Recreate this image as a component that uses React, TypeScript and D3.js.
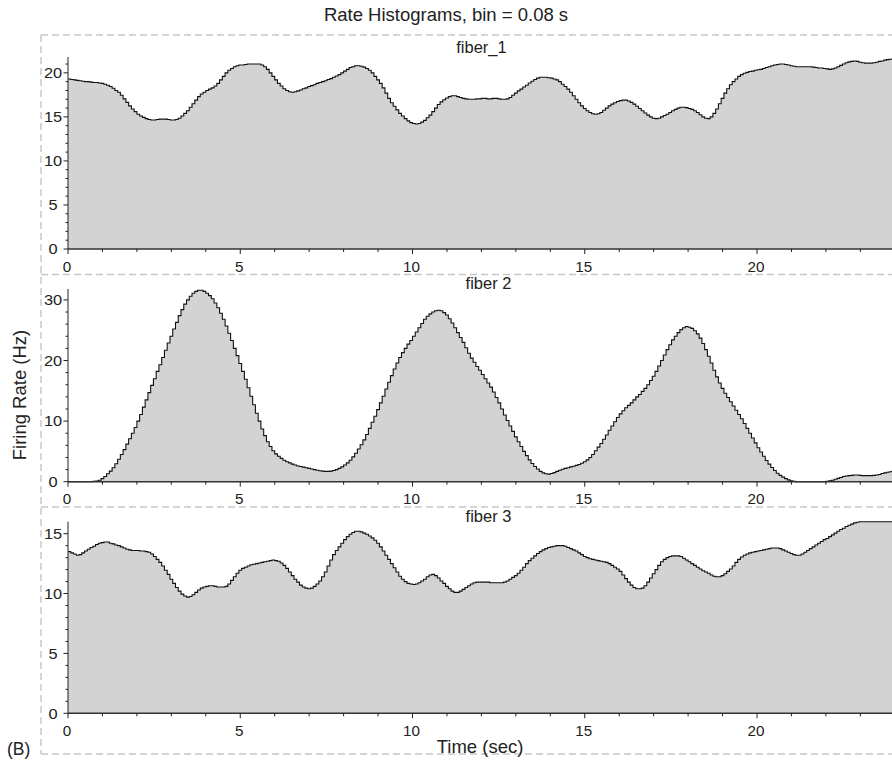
import React from 'react';
import * as d3 from 'd3';

const BIN = 0.08;
const TITLE = 'Rate Histograms, bin = 0.08 s';
const X_LABEL = 'Time (sec)';
const Y_LABEL = 'Firing Rate (Hz)';
const PANEL_TAG = '(B)';
const panelTitles = ['fiber_1', 'fiber 2', 'fiber 3'];

// firing-rate histograms, one value per 0.08 s bin (t = 0.00 ... 23.92)
const fiber1 = [
  19.3,19.25,19.2,19.15,19.1,19.05,19.0,19.0,18.95,18.9,18.9,18.85,18.8,18.7,18.6,18.45,18.25,18.0,17.8,17.45,17.05,16.65,16.25,15.9,15.6,
  15.3,15.1,14.95,14.8,14.7,14.65,14.65,14.7,14.75,14.75,14.75,14.7,14.65,14.65,14.7,14.85,15.1,15.4,15.7,16.1,16.5,16.9,17.3,17.6,17.8,
  18.0,18.15,18.3,18.5,18.8,19.2,19.6,20.0,20.3,20.5,20.7,20.8,20.9,20.9,20.95,21.0,21.0,21.0,21.0,21.0,20.9,20.7,20.4,20.0,19.6,
  19.2,18.8,18.5,18.2,18.0,17.85,17.8,17.85,17.95,18.05,18.2,18.3,18.45,18.55,18.65,18.8,18.9,19.0,19.1,19.25,19.35,19.5,19.65,19.8,20.0,
  20.2,20.4,20.6,20.7,20.8,20.8,20.75,20.65,20.5,20.3,20.0,19.6,19.2,18.8,18.3,17.7,17.1,16.6,16.2,15.8,15.4,15.1,14.8,14.55,14.35,
  14.25,14.2,14.25,14.4,14.6,14.9,15.2,15.6,16.0,16.4,16.7,16.95,17.15,17.3,17.4,17.4,17.3,17.2,17.1,17.05,17.0,17.0,17.0,17.05,17.05,
  17.1,17.1,17.05,17.05,17.1,17.1,17.05,17.0,17.0,17.05,17.2,17.45,17.7,17.95,18.15,18.4,18.6,18.85,19.05,19.25,19.4,19.5,19.5,19.5,19.45,
  19.4,19.3,19.2,19.0,18.7,18.45,18.15,17.8,17.4,17.0,16.6,16.25,15.95,15.7,15.5,15.35,15.3,15.35,15.5,15.75,16.0,16.25,16.45,16.6,16.75,
  16.85,16.9,16.9,16.8,16.65,16.45,16.2,15.95,15.7,15.45,15.2,15.0,14.85,14.8,14.85,15.0,15.15,15.3,15.5,15.7,15.85,16.0,16.1,16.1,16.05,
  15.95,15.85,15.7,15.5,15.25,15.0,14.85,14.8,15.0,15.4,15.9,16.5,17.1,17.7,18.2,18.65,19.0,19.3,19.6,19.8,19.95,20.05,20.15,20.2,20.3,
  20.35,20.4,20.5,20.6,20.7,20.8,20.9,20.95,21.0,21.0,20.95,20.9,20.8,20.75,20.7,20.7,20.7,20.7,20.7,20.7,20.65,20.6,20.55,20.55,20.5,
  20.45,20.4,20.45,20.55,20.7,20.85,21.0,21.15,21.25,21.3,21.35,21.3,21.2,21.15,21.1,21.1,21.1,21.15,21.2,21.3,21.35,21.45,21.5,21.55,21.6,
];

const fiber2 = [
  0,0,0,0,0,0,0,0,0.02,0.05,0.12,0.25,0.5,0.85,1.3,1.75,2.3,2.95,3.7,4.5,5.3,6.2,7.1,8.0,8.95,
  10.0,11.1,12.3,13.5,14.7,15.9,17.0,18.2,19.3,20.5,21.7,22.9,24.0,25.2,26.3,27.4,28.4,29.3,30.0,30.6,31.1,31.4,31.6,31.6,31.4,
  31.1,30.7,30.2,29.5,28.7,27.8,26.8,25.7,24.5,23.3,22.0,20.8,19.5,18.2,16.9,15.5,14.1,12.7,11.3,10.0,8.7,7.6,6.6,5.8,5.1,
  4.6,4.2,3.85,3.55,3.3,3.1,2.9,2.75,2.6,2.5,2.4,2.3,2.2,2.1,2.0,1.9,1.8,1.75,1.7,1.7,1.75,1.85,2.0,2.2,2.45,
  2.75,3.1,3.55,4.1,4.7,5.4,6.1,6.9,7.8,8.8,9.8,10.8,11.9,13.0,14.1,15.3,16.4,17.5,18.6,19.6,20.5,21.3,22.0,22.7,23.3,
  24.0,24.7,25.4,26.1,26.8,27.3,27.7,28.0,28.2,28.3,28.2,27.9,27.5,26.9,26.2,25.4,24.6,23.8,23.0,22.1,21.2,20.4,19.7,19.0,18.4,
  17.7,17.0,16.3,15.6,14.8,13.9,13.0,12.0,11.0,10.1,9.2,8.3,7.4,6.6,5.8,5.0,4.3,3.6,3.0,2.5,2.1,1.7,1.45,1.3,1.25,
  1.35,1.5,1.7,1.9,2.05,2.2,2.3,2.45,2.55,2.7,2.85,3.05,3.3,3.6,4.0,4.5,5.1,5.7,6.3,7.0,7.7,8.5,9.2,9.9,10.6,
  11.2,11.7,12.2,12.6,13.0,13.5,14.0,14.4,14.9,15.4,16.0,16.7,17.4,18.2,19.1,20.0,20.9,21.8,22.6,23.4,24.0,24.6,25.1,25.4,25.6,
  25.5,25.3,24.9,24.4,23.7,22.8,21.8,20.7,19.6,18.4,17.3,16.3,15.4,14.6,13.9,13.2,12.5,11.8,11.1,10.4,9.6,8.8,8.0,7.2,6.4,
  5.6,4.9,4.2,3.5,2.9,2.35,1.85,1.4,1.05,0.75,0.5,0.3,0.15,0.05,0,0,0,0,0,0,0,0,0,0,0,
  0.05,0.15,0.25,0.4,0.55,0.7,0.85,0.95,1.0,1.05,1.1,1.1,1.05,1.0,1.0,1.0,1.0,1.05,1.1,1.2,1.35,1.45,1.55,1.65,1.7,
];

const fiber3 = [
  13.5,13.4,13.3,13.2,13.25,13.4,13.55,13.7,13.85,13.95,14.1,14.2,14.25,14.3,14.3,14.2,14.15,14.05,14.0,13.9,13.8,13.7,13.65,13.6,13.6,
  13.6,13.55,13.55,13.5,13.45,13.3,13.1,12.85,12.6,12.3,11.95,11.6,11.2,10.85,10.5,10.2,9.95,9.8,9.7,9.75,9.9,10.1,10.3,10.45,10.55,
  10.6,10.65,10.65,10.6,10.55,10.55,10.55,10.6,10.8,11.1,11.4,11.7,11.95,12.1,12.2,12.3,12.4,12.45,12.5,12.55,12.6,12.65,12.7,12.75,12.8,
  12.75,12.7,12.55,12.35,12.1,11.8,11.5,11.2,10.95,10.7,10.55,10.45,10.4,10.45,10.6,10.8,11.05,11.4,11.8,12.3,12.8,13.25,13.6,13.9,14.2,
  14.5,14.75,14.95,15.1,15.2,15.2,15.15,15.05,14.95,14.8,14.65,14.45,14.2,13.9,13.55,13.2,12.85,12.5,12.15,11.8,11.45,11.2,11.0,10.85,10.8,
  10.75,10.8,10.9,11.05,11.2,11.4,11.55,11.6,11.5,11.3,11.05,10.85,10.6,10.4,10.2,10.1,10.1,10.2,10.35,10.5,10.65,10.8,10.9,10.95,10.95,
  10.95,10.95,10.95,10.9,10.9,10.9,10.9,10.9,10.95,11.05,11.2,11.35,11.5,11.7,11.95,12.2,12.5,12.75,12.95,13.15,13.35,13.5,13.65,13.75,13.85,
  13.9,13.95,14.0,14.0,14.0,13.95,13.85,13.75,13.65,13.55,13.4,13.25,13.1,13.0,12.9,12.85,12.8,12.75,12.7,12.65,12.6,12.5,12.35,12.2,12.05,
  11.85,11.55,11.25,10.95,10.7,10.5,10.4,10.4,10.45,10.65,10.95,11.3,11.65,12.0,12.35,12.65,12.85,13.0,13.1,13.15,13.15,13.15,13.1,12.95,12.8,
  12.65,12.5,12.35,12.2,12.05,11.9,11.8,11.7,11.55,11.45,11.4,11.4,11.5,11.65,11.85,12.05,12.3,12.6,12.85,13.05,13.2,13.3,13.4,13.45,13.5,
  13.55,13.6,13.65,13.7,13.75,13.8,13.8,13.8,13.75,13.65,13.55,13.45,13.35,13.25,13.2,13.2,13.3,13.45,13.6,13.75,13.9,14.05,14.2,14.35,14.5,
  14.6,14.75,14.9,15.05,15.2,15.35,15.45,15.6,15.7,15.8,15.9,15.95,16.0,16.0,16.0,16.0,16.0,16.0,16.0,16.0,16.0,16.0,16.0,16.0,16.0,
];

const xTicks = [0, 5, 10, 15, 20];
const yTicksList = [[0, 5, 10, 15, 20], [0, 10, 20, 30], [0, 5, 10, 15]];
const yMinorStep = [1, 2, 1];
const yMaxList = [21.8, 31.8, 16];
const X_MAX = 24;

const W = 892;
const H = 761;
const X0 = 68;
const PX_PER_SEC = 34.45;
const panelBottoms = [249, 481.7, 713.3];
const panelTops = [57, 289, 521.7];
const panelTitleY = [52.5, 288.5, 521.5];
const panelTitleX = [481.5, 488.5, 488.5];
const separators = [35, 274.5, 507, 754];

const FONT = '"Liberation Sans", Arial, Helvetica, sans-serif';
const TICK_FS = 14.5;

function Panel({ data, idx }: { data: number[]; idx: number }) {
  const x = d3.scaleLinear().domain([0, X_MAX]).range([X0, X0 + PX_PER_SEC * X_MAX]);
  const y = d3.scaleLinear().domain([0, yMaxList[idx]]).range([panelBottoms[idx], panelTops[idx]]);
  const pts: [number, number][] = data.map((v, i) => [i * BIN, v]);
  pts.push([data.length * BIN, data[data.length - 1]]);
  const area = d3.area<[number, number]>()
    .x(d => x(d[0]))
    .y0(y(0))
    .y1(d => y(d[1]))
    .curve(d3.curveStepAfter);
  const line = d3.line<[number, number]>()
    .x(d => x(d[0]))
    .y(d => y(d[1]))
    .curve(d3.curveStepAfter);
  const minorX = d3.range(0, X_MAX + 0.001, 1).filter(t => t % 5 !== 0);
  const yTicks = yTicksList[idx];
  const minorY = d3.range(0, yMaxList[idx], yMinorStep[idx]).filter(v => !yTicks.includes(v));
  const yb = panelBottoms[idx];
  return (
    <g>
      <path d={area(pts) || ''} fill="#d3d3d3" stroke="none" />
      <path d={line(pts) || ''} fill="none" stroke="#111" strokeWidth={1.1} />
      <line x1={X0} x2={W} y1={yb} y2={yb} stroke="#333" strokeWidth={1.6} />
      {xTicks.map(t => (
        <g key={'mx' + t}>
          <line x1={x(t)} x2={x(t)} y1={yb} y2={yb + 5} stroke="#222" strokeWidth={1} />
          <text transform={`translate(${x(t) - 1},${yb + 22.5}) scale(1.05,1)`} textAnchor="middle" fontSize={TICK_FS} fontFamily={FONT} fill="#222">{t}</text>
        </g>
      ))}
      {minorX.map(t => (
        <line key={'nx' + t} x1={x(t)} x2={x(t)} y1={yb} y2={yb + 3} stroke="#222" strokeWidth={1} />
      ))}
      <line x1={X0} x2={X0} y1={yb} y2={panelTops[idx]} stroke="#222" strokeWidth={1} />
      {yTicks.map(v => (
        <g key={'my' + v}>
          <line x1={X0 - 4.5} x2={X0} y1={y(v)} y2={y(v)} stroke="#222" strokeWidth={1} />
          <text transform={`translate(53,${y(v) + 5.2}) scale(1.13,1)`} textAnchor="middle" fontSize={TICK_FS} fontFamily={FONT} fill="#222">{v}</text>
        </g>
      ))}
      {minorY.map(v => (
        <line key={'ny' + v} x1={X0 - 2.5} x2={X0} y1={y(v)} y2={y(v)} stroke="#222" strokeWidth={1} />
      ))}
      <text x={panelTitleX[idx]} y={panelTitleY[idx]} textAnchor="middle" fontSize={16.5} fontFamily={FONT} fill="#222">{panelTitles[idx]}</text>
    </g>
  );
}

export default function App() {
  const series = [fiber1, fiber2, fiber3];
  return (
    <svg width={W} height={H} style={{ position: 'absolute', left: 0, top: 0, background: '#fff' }}>
      <rect x={0} y={0} width={W} height={H} fill="#fff" />
      {separators.map((sy, i) => (
        <line key={'sep' + i} x1={41} x2={W} y1={sy} y2={sy} stroke="#c8c8c8" strokeWidth={1.5} strokeDasharray="7 4" />
      ))}
      <line x1={41} x2={41} y1={35} y2={754} stroke="#c8c8c8" strokeWidth={1.5} strokeDasharray="7 4" />
      {series.map((s, i) => <Panel key={i} data={s} idx={i} />)}
      <text x={446} y={20.5} textAnchor="middle" fontSize={18.5} fontFamily={FONT} fill="#222">{TITLE}</text>
      <text x={480} y={752.5} textAnchor="middle" fontSize={18.5} fontFamily={FONT} fill="#222">{X_LABEL}</text>
      <text transform="translate(26,395) rotate(-90)" textAnchor="middle" fontSize={18.5} fontFamily={FONT} fill="#222">{Y_LABEL}</text>
      <text x={7} y={755} fontSize={17.5} fontFamily={FONT} fill="#222">{PANEL_TAG}</text>
    </svg>
  );
}
